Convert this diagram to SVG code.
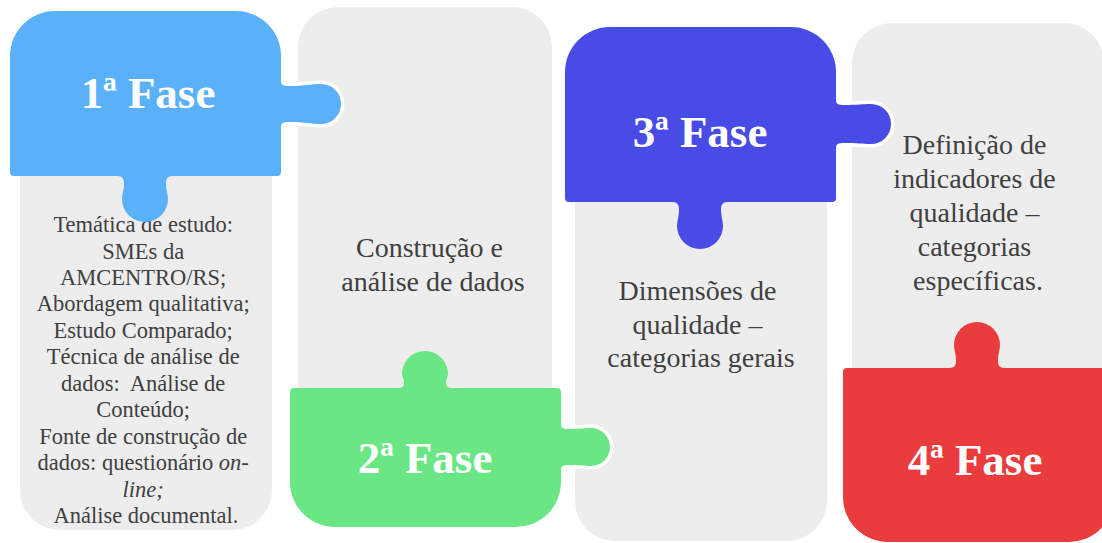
<svg xmlns="http://www.w3.org/2000/svg" width="1102" height="543" viewBox="0 0 1102 543">
<style>
.panel{fill:#EDEDED}
.body{font-family:"Liberation Serif","Times New Roman",serif;fill:#404040;text-anchor:middle}
.t1{font-size:22.5px}
.t2{font-size:28px}
.phase{font-family:"Liberation Serif","Times New Roman",serif;font-weight:bold;font-size:45px;fill:#FFFFFF;text-anchor:middle}
.halo{fill:#FFFFFF;stroke:#FFFFFF;stroke-width:7;stroke-linejoin:round}
</style>
<rect width="1102" height="543" fill="#FFFFFF"/>
<g id="panel1">
<rect class="panel" x="20" y="25" width="252" height="505" rx="40"/>
<text class="body t1">
<tspan x="146" y="232">Temática de estudo:</tspan>
<tspan x="146" y="258.5">SMEs da</tspan>
<tspan x="146" y="285">AMCENTRO/RS;</tspan>
<tspan x="146" y="311.3">Abordagem qualitativa;</tspan>
<tspan x="146" y="337.8">Estudo Comparado;</tspan>
<tspan x="146" y="364.2">Técnica de análise de</tspan>
<tspan x="146" y="390.7">dados:&#160; Análise de</tspan>
<tspan x="146" y="417.1">Conteúdo;</tspan>
<tspan x="146" y="443.6">Fonte de construção de</tspan>
<tspan x="146" y="470">dados: questionário <tspan font-style="italic">on-</tspan></tspan>
<tspan x="146" y="496.5" font-style="italic">line;</tspan>
<tspan x="146" y="523">Análise documental.</tspan>
</text>
</g>
<g id="panel2">
<rect class="panel" x="298" y="7" width="254" height="508" rx="40"/>
<text class="body t2">
<tspan x="433" y="257">Construção e</tspan>
<tspan x="433" y="291">análise de dados</tspan>
</text>
</g>
<g id="panel3">
<rect class="panel" x="575" y="38" width="252" height="503" rx="40"/>
<text class="body t2">
<tspan x="701" y="300">Dimensões de</tspan>
<tspan x="701" y="333.5">qualidade –</tspan>
<tspan x="701" y="367">categorias gerais</tspan>
</text>
</g>
<g id="panel4">
<rect class="panel" x="852" y="23" width="252" height="500" rx="40"/>
<text class="body t2">
<tspan x="978" y="154">Definição de</tspan>
<tspan x="978" y="188">indicadores de</tspan>
<tspan x="978" y="222">qualidade –</tspan>
<tspan x="978" y="256">categorias</tspan>
<tspan x="978" y="290">específicas.</tspan>
</text>
</g>
<g id="fase1">
<path class="halo" d="M270,86 H289 C305,86 310,84 321,84 A20,20 0 0 1 321,124 C310,124 305,122 289,122 H270 Z"/>
<path fill="#5BB0FA" d="M10,56 A45,45 0 0 1 55,11 H236 A45,45 0 0 1 281,56 V81 C281,85 283,86 289,86 C305,86 310,84 321,84 A20,20 0 0 1 321,124 C310,124 305,122 289,122 C283,122 281,123 281,127 V172 A4,4 0 0 1 277,176 H173 C167,176 166,179 166,184 C166,190 168,194 168,199 A23,23 0 0 1 122,199 C122,194 124,190 124,184 C124,179 123,176 117,176 H14 A4,4 0 0 1 10,172 Z"/>
<text class="phase" x="148" y="108">1ª Fase</text>
</g>
<g id="fase2">
<path class="halo" d="M550,429 H569 C582,429 585,428 591,428 A19,19 0 0 1 591,466 C585,466 582,465 569,465 H550 Z"/>
<path fill="#6AE784" d="M290,392 A4,4 0 0 1 294,388 H397 C403,388 404,386 404,382 C404,379 402,377 402,374 A23,23 0 0 1 448,374 C448,377 446,379 446,382 C446,386 447,388 453,388 H557 A4,4 0 0 1 561,392 V424 C561,428 563,429 569,429 C582,429 585,428 591,428 A19,19 0 0 1 591,466 C585,466 582,465 569,465 C563,465 561,466 561,470 V482 A45,45 0 0 1 516,527 H335 A45,45 0 0 1 290,482 Z"/>
<text class="phase" x="425" y="473">2ª Fase</text>
</g>
<g id="fase3">
<path class="halo" d="M825,105 H844 C858,105 862,104 871,104 A20,20 0 0 1 871,144 C862,144 858,143 844,143 H825 Z"/>
<path fill="#484BE6" d="M565,72 A45,45 0 0 1 610,27 H791 A45,45 0 0 1 836,72 V100 C836,104 838,105 844,105 C858,105 862,104 871,104 A20,20 0 0 1 871,144 C862,144 858,143 844,143 C838,143 836,144 836,148 V198 A4,4 0 0 1 832,202 H728 C722,202 721,205 721,210 C721,216 723,221 723,226 A23,23 0 0 1 677,226 C677,221 679,216 679,210 C679,205 678,202 672,202 H569 A4,4 0 0 1 565,198 Z"/>
<text class="phase" x="700" y="147">3ª Fase</text>
</g>
<g id="fase4">
<path fill="#EA3B3D" d="M843,372 A4,4 0 0 1 847,368 H949 C955,368 956,365 956,360 C956,354 954,350 954,345 A23,23 0 0 1 1000,345 C1000,350 998,354 998,360 C998,365 999,368 1005,368 H1110 A4,4 0 0 1 1114,372 V497 A45,45 0 0 1 1069,542 H888 A45,45 0 0 1 843,497 Z"/>
<text class="phase" x="975" y="475">4ª Fase</text>
</g>
</svg>
